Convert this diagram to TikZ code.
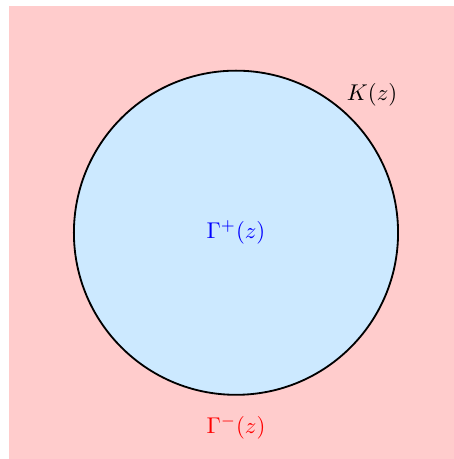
\documentclass[tikz,border=0pt]{standalone}
\usepackage{amsmath,amssymb}
\usepackage{tikz}
\usepackage{xcolor}
\definecolor{discblue}{RGB}{204,233,255}

\begin{document}
\begin{tikzpicture}[line cap=round]
\useasboundingbox (-3.64,-3.49) rectangle (3.35,3.59);
\fill[red!20] (-3.5,-3.5) rectangle (3.5,3.5);
\filldraw[fill=discblue,draw=black,thick] (0,0) circle (2.5);
\node (gplus) [blue] at (0,0) {$\Gamma^{+}(z)$};
\node (gminus) [red] at (0,-3.0) {$\Gamma^{-}(z)$};
\node (kz) at (2.1,2.13) {$K(z)$};
\end{tikzpicture}
\end{document}
